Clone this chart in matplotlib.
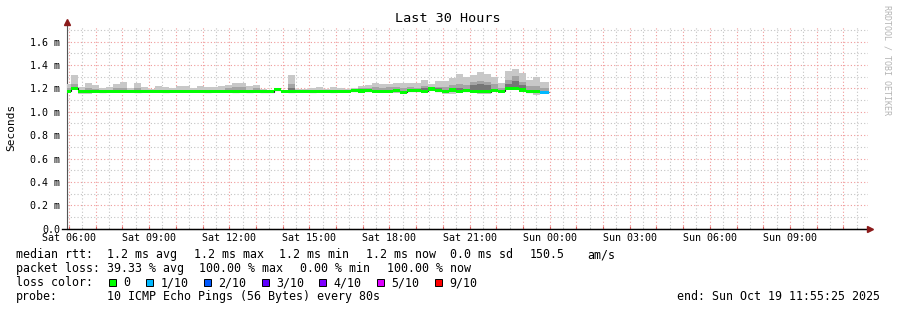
import numpy as np
import matplotlib
matplotlib.use("Agg")
import matplotlib.pyplot as plt
from matplotlib.ticker import MultipleLocator, FuncFormatter
from matplotlib.patches import Rectangle

# time axis in hours from Sat 00:00, window ends Sun 11:55:25
t_left = 5.925
t_right = 35.925
data_start = 5.925
first_edge = 6.075
step = 0.2622
data_end = 23.977

# smoke (ms) per consolidated step
hi = [1.24, 1.316, 1.21, 1.248, 1.228, 1.20, 1.21, 1.237, 1.254, 1.20,
      1.245, 1.21, 1.194, 1.22, 1.21, 1.20, 1.22, 1.22, 1.20, 1.22,
      1.21, 1.21, 1.22, 1.23, 1.245, 1.245, 1.22, 1.23, 1.194, 1.185,
      1.20, 1.185, 1.316, 1.194, 1.194, 1.20, 1.21, 1.194, 1.21, 1.20,
      1.194, 1.20, 1.22, 1.23, 1.245, 1.237, 1.237, 1.245, 1.245, 1.245,
      1.245, 1.271, 1.237, 1.262, 1.262, 1.288, 1.322, 1.297, 1.314, 1.339,
      1.322, 1.297, 1.245, 1.348, 1.365, 1.331, 1.271, 1.297, 1.254, 1.254]
mid = [1.20, 1.24, 1.19, 1.20, 1.195, 1.185, 1.19, 1.20, 1.20, 1.185,
       1.20, 1.19, 1.185, 1.19, 1.19, 1.185, 1.19, 1.19, 1.185, 1.19,
       1.185, 1.19, 1.19, 1.20, 1.21, 1.21, 1.19, 1.20, 1.185, 1.18,
       1.20, 1.18, 1.24, 1.185, 1.185, 1.185, 1.19, 1.185, 1.19, 1.185,
       1.185, 1.19, 1.20, 1.20, 1.21, 1.205, 1.21, 1.21, 1.20, 1.21,
       1.20, 1.22, 1.20, 1.215, 1.215, 1.225, 1.24, 1.23, 1.255, 1.262,
       1.25, 1.24, 1.20, 1.27, 1.305, 1.255, 1.22, 1.22, 1.205, 1.205]
dark = [1.185, 1.21, 1.18, 1.18, 1.18, 1.18, 1.18, 1.185, 1.185, 1.18,
        1.18, 1.18, 1.18, 1.18, 1.18, 1.18, 1.18, 1.18, 1.18, 1.18,
        1.18, 1.18, 1.18, 1.185, 1.185, 1.185, 1.18, 1.185, 1.18, 1.175,
        1.195, 1.18, 1.20, 1.18, 1.18, 1.18, 1.18, 1.18, 1.18, 1.18,
        1.18, 1.185, 1.19, 1.19, 1.19, 1.185, 1.185, 1.19, 1.18, 1.19,
        1.19, 1.20, 1.185, 1.20, 1.19, 1.195, 1.20, 1.19, 1.225, 1.237,
        1.225, 1.195, 1.19, 1.237, 1.262, 1.23, 1.19, 1.185, 1.175, 1.175]
med = [1.175, 1.20, 1.174, 1.174, 1.174, 1.172, 1.174, 1.174, 1.176, 1.174,
       1.172, 1.174, 1.176, 1.174, 1.172, 1.174, 1.174, 1.174, 1.176, 1.174,
       1.172, 1.174, 1.174, 1.174, 1.172, 1.174, 1.172, 1.174, 1.17, 1.172,
       1.19, 1.174, 1.172, 1.174, 1.174, 1.172, 1.174, 1.174, 1.172, 1.174,
       1.174, 1.18, 1.178, 1.18, 1.174, 1.174, 1.174, 1.18, 1.166, 1.18,
       1.18, 1.174, 1.194, 1.18, 1.174, 1.185, 1.174, 1.18, 1.174, 1.172,
       1.172, 1.183, 1.174, 1.20, 1.20, 1.185, 1.172, 1.172, 1.166, 1.166]
lo = [1.165, 1.19, 1.155, 1.155, 1.16, 1.163, 1.165, 1.165, 1.168, 1.165,
      1.16, 1.165, 1.168, 1.165, 1.163, 1.165, 1.165, 1.165, 1.168, 1.165,
      1.163, 1.165, 1.165, 1.165, 1.163, 1.165, 1.163, 1.165, 1.16, 1.163,
      1.18, 1.165, 1.163, 1.165, 1.165, 1.163, 1.165, 1.165, 1.163, 1.165,
      1.165, 1.17, 1.168, 1.17, 1.165, 1.165, 1.165, 1.16, 1.155, 1.168,
      1.17, 1.165, 1.18, 1.168, 1.148, 1.148, 1.165, 1.165, 1.165, 1.15,
      1.15, 1.17, 1.165, 1.185, 1.185, 1.175, 1.16, 1.145, 1.155, 1.155]
loss = [0, 0, 0, 0, 0, 0, 0, 0, 0, 0,
        0, 0, 0, 0, 0, 0, 0, 0, 0, 0,
        0, 0, 0, 0, 0, 0, 0, 0, 0, 0,
        0, 0, 0, 0, 0, 0, 0, 0, 0, 0,
        0, 0, 0, 0, 0, 0, 0, 0, 0, 0,
        0, 0, 0, 0, 0, 0, 0, 0, 0, 0,
        0, 0, 0, 0, 0, 0, 0, 0, 1, 1]

loss_levels = ["0", "1/10", "2/10", "3/10", "4/10", "5/10", "9/10"]
loss_colors = ["#00ff00", "#00b8ff", "#0059ff", "#5e00ff", "#7e00ff", "#dd00ff", "#ff0000"]
tick_names = ["Sat 06:00", "Sat 09:00", "Sat 12:00", "Sat 15:00", "Sat 18:00",
              "Sat 21:00", "Sun 00:00", "Sun 03:00", "Sun 06:00", "Sun 09:00"]

W, H = 897, 310
plt.rcParams["font.family"] = ["DejaVu Sans Mono"]
fig = plt.figure(figsize=(W / 100, H / 100), dpi=100)
fig.patch.set_facecolor("white")
ax = fig.add_axes([67 / W, (H - 228.7) / H, 801 / W, (228.7 - 26) / H])

edges = np.concatenate([[data_start], first_edge + step * np.arange(len(hi) - 1), [data_end]])
hi = np.array(hi); mid = np.array(mid); dark = np.array(dark)
med = np.array(med); lo = np.array(lo)

ax.stairs(hi, edges, baseline=lo, fill=True, color="#c8c8c8", lw=0, zorder=3)
ax.stairs(mid, edges, baseline=med - 0.006, fill=True, color="#a4a4a4", lw=0, zorder=4)
ax.stairs(dark, edges, baseline=med - 0.004, fill=True, color="#767676", lw=0, zorder=5)
ax.stairs(med, edges, baseline=None, color="#202020", lw=0.8, zorder=6)
ax.stairs(med + 0.014, edges, baseline=med - 0.014, fill=True, color=loss_colors[0], lw=0, zorder=7)
for i in range(len(med)):
    if loss[i] > 0:
        ax.bar(edges[i], 0.028, width=edges[i + 1] - edges[i], bottom=med[i] - 0.014,
               align="edge", color=loss_colors[loss[i]], lw=0, zorder=8)

ax.set_xlim(t_left, t_right)
ax.set_ylim(0, 1.733)

# grid like rrdtool: red major, grey minor, dotted
ax.xaxis.set_major_locator(MultipleLocator(1))
ax.xaxis.set_minor_locator(MultipleLocator(0.5))
ax.yaxis.set_major_locator(MultipleLocator(0.2))
ax.yaxis.set_minor_locator(MultipleLocator(0.1))
ax.grid(which="minor", color="#c4c4c4", ls=(0, (1, 2)), lw=0.8, zorder=1)
ax.grid(which="major", color="#f09a9a", ls=(0, (1, 2)), lw=0.8, zorder=2)


def xfmt(v, pos):
    h = int(round(v))
    if h % 3 != 0 or h < 6 or h > 33:
        return ""
    return tick_names[(h - 6) // 3]


def yfmt(v, pos):
    if abs(v) < 1e-9:
        return "0.0"
    return "%.1f m" % v


ax.xaxis.set_major_formatter(FuncFormatter(xfmt))
ax.yaxis.set_major_formatter(FuncFormatter(yfmt))
ax.tick_params(axis="x", which="major", direction="in", length=2.5, color="#e06060",
               labelsize=7.2, pad=3.2)
ax.tick_params(axis="x", which="minor", direction="in", length=1.5, color="#b0b0b0")
ax.tick_params(axis="y", which="both", length=0, labelsize=7.2, pad=5)

for s in ["top", "right"]:
    ax.spines[s].set_visible(False)
ax.spines["left"].set_color("#555555")
ax.spines["bottom"].set_color("black")
ax.spines["left"].set_bounds(0, 1.733)

# axis arrows
ax.plot([t_left - 0.19, t_right + 0.05], [0, 0], color="black", lw=1, clip_on=False, zorder=9)
ax.plot([t_right + 0.07], [0], marker=">", color="#8b1a1a", ms=4, clip_on=False, zorder=10)
ax.plot([t_left], [1.77], marker="^", color="#8b1a1a", ms=4, clip_on=False, zorder=10)


def fx(x):
    return x / W


def fy(y):
    return 1 - y / H


fig.text(fx(448), fy(19), "Last 30 Hours", ha="center", va="center", fontsize=9.7)
fig.text(fx(11), fy(127), "Seconds", rotation=90, ha="center", va="center", fontsize=8)
fig.text(fx(887), fy(60), "RRDTOOL / TOBI OETIKER", rotation=270, ha="center",
         va="center", fontsize=6, color="#b4b4b4")

fs = 8.4
row1 = [(16, "median rtt:"), (107, "1.2 ms avg"), (194, "1.2 ms max"), (279, "1.2 ms min"),
        (366, "1.2 ms now"), (450, "0.0 ms sd"), (530, "150.5"), (587, "am/s")]
row2 = [(16, "packet loss:"), (107, "39.33 % avg"), (199, "100.00 % max"),
        (300, "0.00 % min"), (387, "100.00 % now")]
for x, s in row1:
    fig.text(fx(x), fy(258.3), s, fontsize=fs, va="baseline")
for x, s in row2:
    fig.text(fx(x), fy(272.3), s, fontsize=fs, va="baseline")

fig.text(fx(16), fy(286.3), "loss color:", fontsize=fs, va="baseline")
sq_x = [109, 146, 204, 262, 319, 377, 435]
for i in range(len(loss_levels)):
    fig.patches.append(Rectangle((fx(sq_x[i]), fy(286)), 7 / W, 7 / H, transform=fig.transFigure,
                                 facecolor=loss_colors[i], edgecolor="black", lw=0.7))
    fig.text(fx(sq_x[i] + 14.5), fy(286.3), loss_levels[i], fontsize=fs, va="baseline")

fig.text(fx(16), fy(300.3), "probe:", fontsize=fs, va="baseline")
fig.text(fx(107), fy(300.3), "10 ICMP Echo Pings (56 Bytes) every 80s", fontsize=fs, va="baseline")
fig.text(fx(880), fy(300.3), "end: Sun Oct 19 11:55:25 2025", fontsize=fs, va="baseline", ha="right")

fig.savefig("out.png", dpi=100)
